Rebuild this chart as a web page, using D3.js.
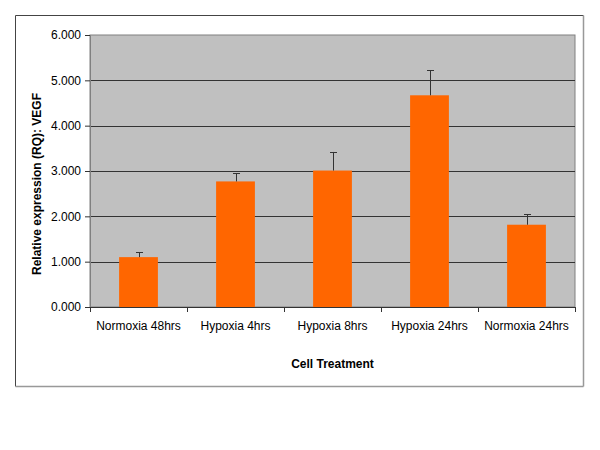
<!DOCTYPE html>
<html>
<head>
<meta charset="utf-8">
<script src="https://cdn.jsdelivr.net/npm/d3@7"></script>
<style>
  body { margin: 0; background: #fff; }
  text { font-family: "Liberation Sans", Arial, sans-serif; }
</style>
</head>
<body>
<div id="chart"></div>
<script>
const categories = ['Normoxia 48hrs', 'Hypoxia 4hrs', 'Hypoxia 8hrs', 'Hypoxia 24hrs', 'Normoxia 24hrs'];
const values = [1.10, 2.77, 3.01, 4.67, 1.815];
const errors = [0.11, 0.185, 0.41, 0.55, 0.235];
const yTicks = [0, 1, 2, 3, 4, 5, 6];

const width = 600, height = 450;
const margin = { top: 35, right: 25, bottom: 143, left: 90 };
const w = width - margin.left - margin.right, h = height - margin.top - margin.bottom;

const svg = d3.select('#chart').append('svg').attr('width', width).attr('height', height);

// outer chart border
svg.append('line').attr('x1', 15.5).attr('y1', 15.5).attr('x2', 583.5).attr('y2', 15.5).attr('stroke', '#444');
svg.append('line').attr('x1', 15.5).attr('y1', 15.5).attr('x2', 15.5).attr('y2', 386.5).attr('stroke', '#444');
svg.append('line').attr('x1', 15.5).attr('y1', 386.5).attr('x2', 583.5).attr('y2', 386.5).attr('stroke', '#999').attr('stroke-width', 1.5);
svg.append('line').attr('x1', 583.5).attr('y1', 15.5).attr('x2', 583.5).attr('y2', 386.5).attr('stroke', '#999').attr('stroke-width', 1.5);

const g = svg.append('g').attr('transform', `translate(${margin.left},${margin.top})`);

const x = d3.scaleBand().domain(categories).range([0, w]).paddingInner(0.6).paddingOuter(0.3);
const y = d3.scaleLinear().domain([0, 6]).range([h, 0]);

g.append('rect').attr('width', w).attr('height', h).attr('fill', '#c0c0c0').attr('stroke', '#808080');

// gridlines
g.selectAll('.grid').data(yTicks.slice(1, -1)).enter().append('line')
  .attr('class', 'grid')
  .attr('x1', 0).attr('x2', w)
  .attr('y1', d => Math.round(y(d)) + 0.5).attr('y2', d => Math.round(y(d)) + 0.5)
  .attr('stroke', '#333');

// bars
g.selectAll('.bar').data(values).enter().append('rect')
  .attr('class', 'bar')
  .attr('x', (d, i) => x(categories[i]))
  .attr('width', x.bandwidth())
  .attr('y', d => y(d))
  .attr('height', d => h - y(d))
  .attr('fill', '#ff6600');

// error bars (upper only)
const err = g.selectAll('.err').data(values).enter().append('g').attr('class', 'err');
err.append('line')
  .attr('x1', (d, i) => Math.round(x(categories[i]) + x.bandwidth() / 2) + 0.5)
  .attr('x2', (d, i) => Math.round(x(categories[i]) + x.bandwidth() / 2) + 0.5)
  .attr('y1', d => y(d))
  .attr('y2', (d, i) => y(d + errors[i]))
  .attr('stroke', '#333');
err.append('line')
  .attr('x1', (d, i) => Math.round(x(categories[i]) + x.bandwidth() / 2) - 3)
  .attr('x2', (d, i) => Math.round(x(categories[i]) + x.bandwidth() / 2) + 4)
  .attr('y1', (d, i) => Math.round(y(d + errors[i])) + 0.5)
  .attr('y2', (d, i) => Math.round(y(d + errors[i])) + 0.5)
  .attr('stroke', '#333');

// y axis
const yAxis = g.append('g')
  .call(d3.axisLeft(y).tickValues(yTicks).tickFormat(d3.format('.3f')).tickSize(5).tickPadding(4));
yAxis.select('.domain').attr('stroke', '#808080');
yAxis.selectAll('.tick line').attr('stroke', '#333');
yAxis.selectAll('.tick text').attr('font-size', 12).attr('fill', '#000')
  .attr('font-family', '"Liberation Sans", Arial, sans-serif');

// x axis: ticks on category boundaries
const xAxisG = g.append('g').attr('transform', `translate(0,${h})`);
xAxisG.append('line').attr('x1', 0).attr('x2', w).attr('y1', 0.5).attr('y2', 0.5).attr('stroke', '#333');
const bounds = d3.range(categories.length + 1).map(i => i * w / categories.length);
xAxisG.selectAll('.xt').data(bounds).enter().append('line')
  .attr('x1', d => Math.round(d) + 0.5).attr('x2', d => Math.round(d) + 0.5)
  .attr('y1', 0).attr('y2', 5).attr('stroke', '#333');
xAxisG.selectAll('.xl').data(categories).enter().append('text')
  .attr('x', d => x(d) + x.bandwidth() / 2)
  .attr('y', 23)
  .attr('text-anchor', 'middle')
  .attr('font-size', 12)
  .text(d => d);

// axis titles
svg.append('text')
  .attr('x', margin.left + w / 2).attr('y', 368)
  .attr('text-anchor', 'middle').attr('font-size', 12).attr('font-weight', 'bold')
  .text('Cell Treatment');
svg.append('text')
  .attr('transform', 'translate(41,184) rotate(-90)')
  .attr('text-anchor', 'middle').attr('font-size', 12).attr('font-weight', 'bold')
  .text('Relative expression (RQ): VEGF');
</script>
</body>
</html>
